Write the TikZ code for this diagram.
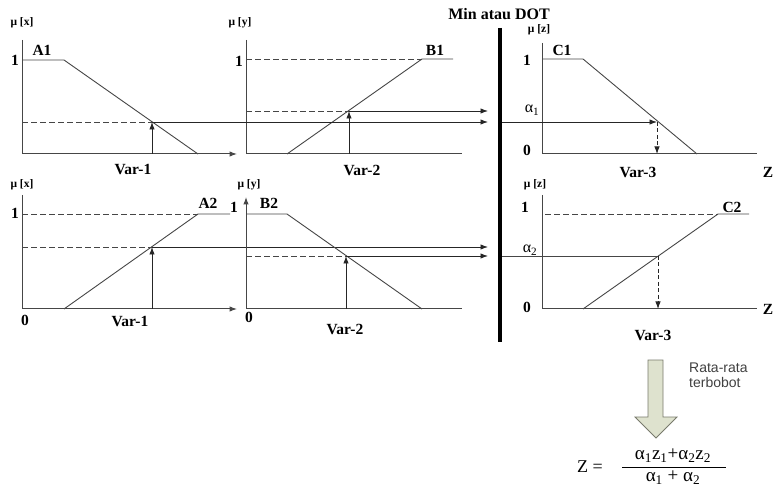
\documentclass[tikz,border=0pt]{standalone}
\usepackage{fontspec}
\setmainfont{Liberation Serif}
\newfontfamily\rsans{Liberation Sans}
\usetikzlibrary{arrows.meta, positioning}
\definecolor{lineGray}{RGB}{70, 70, 70}
\definecolor{arrowFill}{RGB}{222, 226, 206}
\definecolor{arrowEdge}{RGB}{120, 122, 108}

\tikzset{
  axisline/.style={draw=lineGray, line width=1pt},
  mfline/.style={draw=lineGray, line width=0.9pt},
  guide/.style={draw=lineGray, line width=0.9pt, dash pattern=on 5.5pt off 3.5pt},
  cutline/.style={->, draw=black!85, line width=0.9pt},
  lbl/.style={font=\bfseries\fontsize{15.5}{17}\selectfont, inner sep=0pt},
  mulbl/.style={font=\bfseries\fontsize{11.5}{13}\selectfont, inner sep=0pt},
  alphalbl/.style={font=\fontsize{16}{18}\selectfont, inner sep=0pt}
}

\begin{document}
\begin{tikzpicture}[x=1pt, y=-1pt, >={Latex[length=7.5pt,width=5.5pt]}]
  \useasboundingbox (0,0) rectangle (777,489);

  % Panel A1
  \coordinate (a1cut) at (152,122);
  \draw[axisline] (22,40) -- (22,154);
  \draw[axisline, ->] (22,154) -- (237,154);
  \draw[mfline] (22,60) -- (64,60) -- (198,154);
  \draw[guide] (22,122) -- (a1cut);
  \draw[cutline] (152,154) -- (a1cut);
  \node[mulbl] (mux1) at (22,23) {μ [x]};
  \node[lbl] (one1) at (15,60) {1};
  \node[lbl] (na1) at (42,50) {A1};
  \node[lbl] (var1a) at (133,170) {Var-1};

  % Panel B1
  \coordinate (b1cut) at (349,111);
  \draw[axisline] (246,40) -- (246,154);
  \draw[axisline] (246,154) -- (462,154);
  \draw[guide] (246,59) -- (422,59);
  \draw[mfline] (287,154) -- (422,59) -- (453,59);
  \draw[guide] (246,111) -- (b1cut);
  \draw[cutline] (349,154) -- (b1cut);
  \node[mulbl] (muy1) at (240,23) {μ [y]};
  \node[lbl] (one2) at (239,61) {1};
  \node[lbl] (nb1) at (435,50) {B1};
  \node[lbl] (var2a) at (362,170) {Var-2};

  % Min atau DOT
  \draw[line width=3.2pt] (500,28) -- (500,342);
  \node[font=\bfseries\fontsize{16}{18}\selectfont, inner sep=0pt] (mindot) at (499,14) {Min atau DOT};
  \coordinate (in1a) at (488,122);
  \coordinate (in1b) at (488,111);
  \coordinate (in2a) at (488,247);
  \coordinate (in2b) at (488,256);
  \draw[cutline] (a1cut) -- (in1a);
  \draw[cutline] (b1cut) -- (in1b);

  % Panel C1
  \coordinate (c1cut) at (657,122);
  \draw[axisline] (542,43) -- (542,154);
  \draw[axisline] (542,154) -- (757,154);
  \draw[mfline] (542,59) -- (583,59) -- (697,154);
  \draw[cutline] (502,122) -- (c1cut);
  \draw[cutline, dash pattern=on 4pt off 2.5pt] (c1cut) -- (657,154);
  \node[mulbl] (muz1) at (539,30) {μ [z]};
  \node[lbl] (one3) at (527,60) {1};
  \node[lbl] (zero3) at (527,150) {0};
  \node[lbl] (nc1) at (562,50) {C1};
  \node[alphalbl] (al1) at (532,110) {α\textsubscript{1}};
  \node[lbl] (var3a) at (638,172) {Var-3};
  \node[lbl] (za) at (768,172) {Z};

  % Panel A2
  \coordinate (a2cut) at (152,247);
  \draw[axisline] (22,195) -- (22,309);
  \draw[axisline, ->] (22,309) -- (237,309);
  \draw[guide] (22,214) -- (198,214);
  \draw[mfline] (64,309) -- (198,214) -- (230,214);
  \draw[guide] (22,247) -- (a2cut);
  \draw[cutline] (152,309) -- (a2cut);
  \draw[cutline] (a2cut) -- (in2a);
  \node[mulbl] (mux2) at (22,185) {μ [x]};
  \node[lbl] (one4) at (15,213) {1};
  \node[lbl] (zero4) at (25,320) {0};
  \node[lbl] (na2) at (208,203) {A2};
  \node[lbl] (var1b) at (130,322) {Var-1};

  % Panel B2
  \coordinate (b2cut) at (346,256);
  \draw[axisline, ->] (246,309) -- (246,197);
  \draw[axisline] (246,309) -- (462,309);
  \draw[mfline] (246,214) -- (287,214) -- (422,309);
  \draw[guide] (246,256) -- (b2cut);
  \draw[cutline] (346,309) -- (b2cut);
  \draw[cutline] (b2cut) -- (in2b);
  \node[mulbl] (muy2) at (249,185) {μ [y]};
  \node[lbl] (one5) at (234,207) {1};
  \node[lbl] (zero5) at (249,317) {0};
  \node[lbl] (nb2) at (269,203) {B2};
  \node[lbl] (var2b) at (345,329) {Var-2};

  % Panel C2
  \coordinate (c2cut) at (658,256);
  \draw[axisline] (542,195) -- (542,309);
  \draw[axisline] (542,309) -- (757,309);
  \draw[guide] (545,214) -- (718,214);
  \draw[mfline] (583,309) -- (718,214) -- (749,214);
  \draw[mfline] (502,256) -- (c2cut);
  \draw[cutline, dash pattern=on 4pt off 2.5pt] (c2cut) -- (658,309);
  \node[mulbl] (muz2) at (535,185) {μ [z]};
  \node[lbl] (one6) at (525,207) {1};
  \node[lbl] (zero6) at (527,307) {0};
  \node[lbl] (nc2) at (732,207) {C2};
  \node[alphalbl] (al2) at (530,250) {α\textsubscript{2}};
  \node[lbl] (var3b) at (653,335) {Var-3};
  \node[lbl] (zb) at (768,309) {Z};

  % Weighted average
  \draw[fill=arrowFill, draw=arrowEdge, line width=0.8pt]
    (648,360) -- (663,360) -- (663,417) -- (677,417) -- (656,438)
    -- (635,417) -- (648,417) -- cycle;
  \node[font=\rsans\fontsize{14}{16}\selectfont, text=black!75, anchor=west, inner sep=0pt]
    (rata) at (689,368) {Rata-rata};
  \node[font=\rsans\fontsize{14}{16}\selectfont, text=black!75, inner sep=0pt,
    below=4pt of rata.south west, anchor=north west] (bobot) {terbobot};

  % Formula
  \node[font=\fontsize{18}{20}\selectfont, inner sep=0pt] (zeq) at (590,467) {Z =};
  \node[font=\fontsize{19}{21}\selectfont, inner sep=0pt] (num) at (673,456)
    {α\textsubscript{1}z\textsubscript{1}+α\textsubscript{2}z\textsubscript{2}};
  \node[font=\fontsize{19}{21}\selectfont, inner sep=0pt] (den) at (673,478)
    {α\textsubscript{1} + α\textsubscript{2}};
  \coordinate (fracl) at (622,467);
  \coordinate (fracr) at (726,467);
  \draw[line width=0.7pt] (fracl) -- (fracr);
\end{tikzpicture}
\end{document}
